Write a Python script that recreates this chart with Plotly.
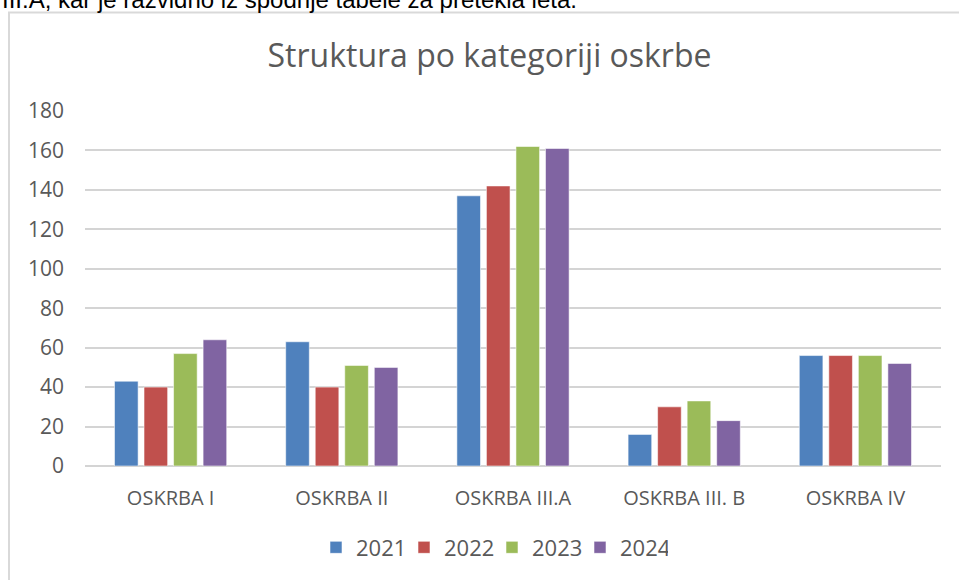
import plotly.graph_objects as go

categories = ["OSKRBA I", "OSKRBA II", "OSKRBA III.A", "OSKRBA III. B", "OSKRBA IV"]
years = ["2021", "2022", "2023", "2024"]
values_2021 = [43, 63, 137, 16, 56]
values_2022 = [40, 40, 142, 30, 56]
values_2023 = [57, 51, 162, 33, 56]
values_2024 = [64, 50, 161, 23, 52]
series = [values_2021, values_2022, values_2023, values_2024]
colors = ["#4F81BD", "#C0504D", "#9BBB59", "#8064A2"]
y_ticks = [0, 20, 40, 60, 80, 100, 120, 140, 160, 180]

W, H = 959, 580
L, R, T, B = 85, 18, 111, 112
PW, PH = W - L - R, H - T - B


def px_x(x):
    return (x - L) / PW


def px_y(y):
    return (H - B - y) / PH


fig = go.Figure()
for name, vals, col in zip(years, series, colors):
    fig.add_trace(go.Bar(
        x=categories, y=vals, name=name,
        marker=dict(color=col, line=dict(color="rgba(255,255,255,0.55)", width=1)),
    ))

FONT = "Open Sans"
GREY = "#595959"

fig.update_layout(
    width=W, height=H,
    margin=dict(l=L, r=R, t=T, b=B),
    paper_bgcolor="white", plot_bgcolor="white",
    barmode="group", bargap=0.31, bargroupgap=0.2,
    title=dict(text="Struktura po kategoriji oskrbe", x=489.5 / W, xanchor="center",
               y=1 - 56 / H, yanchor="middle", xref="container", yref="container",
               font=dict(family=FONT, size=32, color=GREY)),
    xaxis=dict(showgrid=False, showline=False, ticks="", ticklabelstandoff=18,
               tickfont=dict(family=FONT, size=20, color=GREY)),
    yaxis=dict(range=[0, 180], tickvals=y_ticks, showgrid=True, gridcolor="#D4D4D4",
               gridwidth=1.5, zeroline=True, zerolinecolor="#D4D4D4", zerolinewidth=1.5,
               showline=False, ticks="", ticklabelstandoff=20,
               tickfont=dict(family=FONT, size=21, color=GREY)),
    legend=dict(orientation="h", x=px_x(492), xanchor="center", y=px_y(550), yanchor="middle",
                font=dict(family=FONT, size=22, color=GREY), itemwidth=30,
                entrywidth=43, traceorder="normal"),
    shapes=[dict(type="rect", xref="paper", yref="paper",
                 x0=px_x(9), x1=px_x(975), y0=px_y(12), y1=px_y(595),
                 line=dict(color="#D9D9D9", width=2), layer="below")],
    annotations=[dict(text="III.A, kar je razvidno iz spodnje tabele za pretekla leta.",
                      xref="paper", yref="paper", x=px_x(0), y=px_y(-1), xanchor="left",
                      yanchor="middle", showarrow=False,
                      font=dict(family="Liberation Sans", size=24, color="black"))],
)

fig.write_html("out.html", config={"displayModeBar": False},
               post_script="document.body.style.margin='0';document.body.style.overflow='hidden';")
